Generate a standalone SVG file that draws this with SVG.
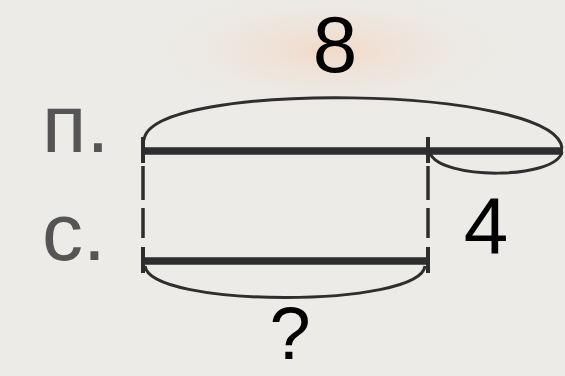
<svg xmlns="http://www.w3.org/2000/svg" width="565" height="376" viewBox="0 0 565 376">
<defs>
<radialGradient id="blob" cx="50%" cy="50%" r="50%">
<stop offset="0" stop-color="#f2d9c8"/>
<stop offset="1" stop-color="#ecebe7" stop-opacity="0"/>
</radialGradient>
<style>
.bar{stroke:#2e2e2e;stroke-width:7.5;fill:none}
.tick{stroke:#2e2e2e;stroke-width:4;fill:none}
.dash{stroke:#2e2e2e;stroke-width:3.5;fill:none}
.arc{stroke:#2e2e2e;stroke-width:3;fill:none}
.num{font-family:"Liberation Sans",Arial,sans-serif;font-size:80px;fill:#000}
.lbl{font-family:"Liberation Sans",Arial,sans-serif;font-size:82px;fill:#555}
</style>
</defs>
<rect width="565" height="376" fill="#ecebe7"/>
<ellipse cx="330" cy="50" rx="200" ry="70" fill="url(#blob)"/>
<g id="connectors">
<path class="arc" d="M144,140 C150,80 555,85 562,148"/>
<path class="arc" d="M430,153 C440,180 555,180 562,152"/>
<path class="arc" d="M145,266 C150,308 420,308 425,266"/>
<path class="dash" d="M143,166 V200 M143,208 V238 M428,166 V200 M428,208 V238"/>
</g>
<g id="node-p">
<line class="bar" x1="143" y1="151" x2="563" y2="151"/>
<line class="tick" x1="143" y1="137" x2="143" y2="163"/>
<line class="tick" x1="428" y1="137" x2="428" y2="163"/>
<text class="lbl" x="42" y="152">п.</text>
</g>
<g id="node-s">
<line class="bar" x1="143" y1="261" x2="428" y2="261"/>
<line class="tick" x1="143" y1="247" x2="143" y2="273"/>
<line class="tick" x1="428" y1="247" x2="428" y2="273"/>
<text class="lbl" x="42" y="260">с.</text>
</g>
<g id="labels">
<text class="num" x="335" y="72" text-anchor="middle">8</text>
<text class="num" x="486" y="253" text-anchor="middle">4</text>
<text class="num" x="290" y="359" text-anchor="middle" style="font-size:74px">?</text>
</g>
</svg>
